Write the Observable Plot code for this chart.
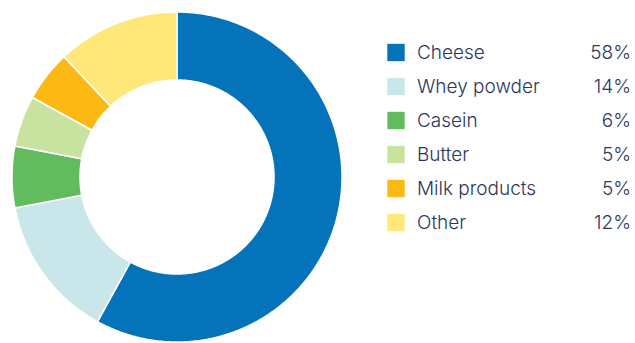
<!DOCTYPE html>
<html>
<head>
<meta charset="utf-8">
<script src="https://cdn.jsdelivr.net/npm/d3@7"></script>
<script src="https://cdn.jsdelivr.net/npm/@observablehq/plot@0.6"></script>
<style>
  html, body { margin: 0; padding: 0; background: #fff; }
  #wrap { position: relative; width: 635px; height: 343px; overflow: hidden; }
  #wrap svg { position: absolute; top: 0; }
</style>
</head>
<body>
<div id="wrap"></div>
<script>
const categories = ["Cheese", "Whey powder", "Casein", "Butter", "Milk products", "Other"];
const shares = [58, 14, 6, 5, 5, 12];
const shareLabels = ["58%", "14%", "6%", "5%", "5%", "12%"];
const colors = ["#0473ba", "#c9e7eb", "#63bb60", "#c8e2a0", "#fdb913", "#ffe77a"];

const innerRatio = 0.588;
const total = d3.sum(shares);

// Build donut slice polygons from the shares (angle measured clockwise from top)
function pt(a, r) { return [r * Math.sin(a), -r * Math.cos(a)]; }
let acc = 0;
const slices = categories.map((c, i) => {
  const a0 = acc / total * 2 * Math.PI;
  acc += shares[i];
  const a1 = acc / total * 2 * Math.PI;
  const n = Math.max(8, Math.ceil((a1 - a0) / 0.01));
  const ring = [];
  for (let k = 0; k <= n; k++) ring.push(pt(a0 + (a1 - a0) * k / n, 1));
  for (let k = n; k >= 0; k--) ring.push(pt(a0 + (a1 - a0) * k / n, innerRatio));
  ring.push(ring[0]);
  return {type: "Feature", properties: {category: c}, geometry: {type: "Polygon", coordinates: [ring]}};
});
const outline = [];
for (let k = 0; k <= 360; k++) outline.push(pt(k / 360 * 2 * Math.PI, 1));
const domainCircle = {type: "Polygon", coordinates: [outline]};

const donut = Plot.plot({
  width: 353,
  height: 343,
  marginLeft: 11.5,
  marginRight: 11.5,
  marginTop: 11.5,
  marginBottom: 1.5,
  projection: {type: "identity", domain: domainCircle},
  color: {domain: categories, range: colors},
  marks: [
    Plot.geo(slices, {fill: d => d.properties.category, stroke: "white", strokeWidth: 1.5, strokeLinejoin: "miter"})
  ]
});
donut.style.left = "0px";

const rows = categories.map((c, i) => ({category: c, label: shareLabels[i]}));
const legend = Plot.plot({
  width: 255,
  height: 343,
  margin: 0,
  style: {fontFamily: "Inter, 'Noto Sans', sans-serif", fontSize: "19px"},
  y: {type: "point", domain: categories, range: [51, 223.5], padding: 0, axis: null},
  color: {domain: categories, range: colors},
  marks: [
    Plot.dot(rows, {y: "category", frameAnchor: "left", dx: 15.5, symbol: "square", r: 9.8, fill: "category", stroke: null}),
    Plot.text(rows, {y: "category", text: "category", frameAnchor: "left", dx: 36.5, textAnchor: "start", lineAnchor: "middle", fill: "#2b3660", fontWeight: 300}),
    Plot.text(rows, {y: "category", text: "label", frameAnchor: "right", dx: -4.5, textAnchor: "end", lineAnchor: "middle", fill: "#2b3660", fontWeight: 300})
  ]
});
legend.style.left = "380px";

const wrap = document.getElementById("wrap");
wrap.appendChild(donut);
wrap.appendChild(legend);
</script>
</body>
</html>
